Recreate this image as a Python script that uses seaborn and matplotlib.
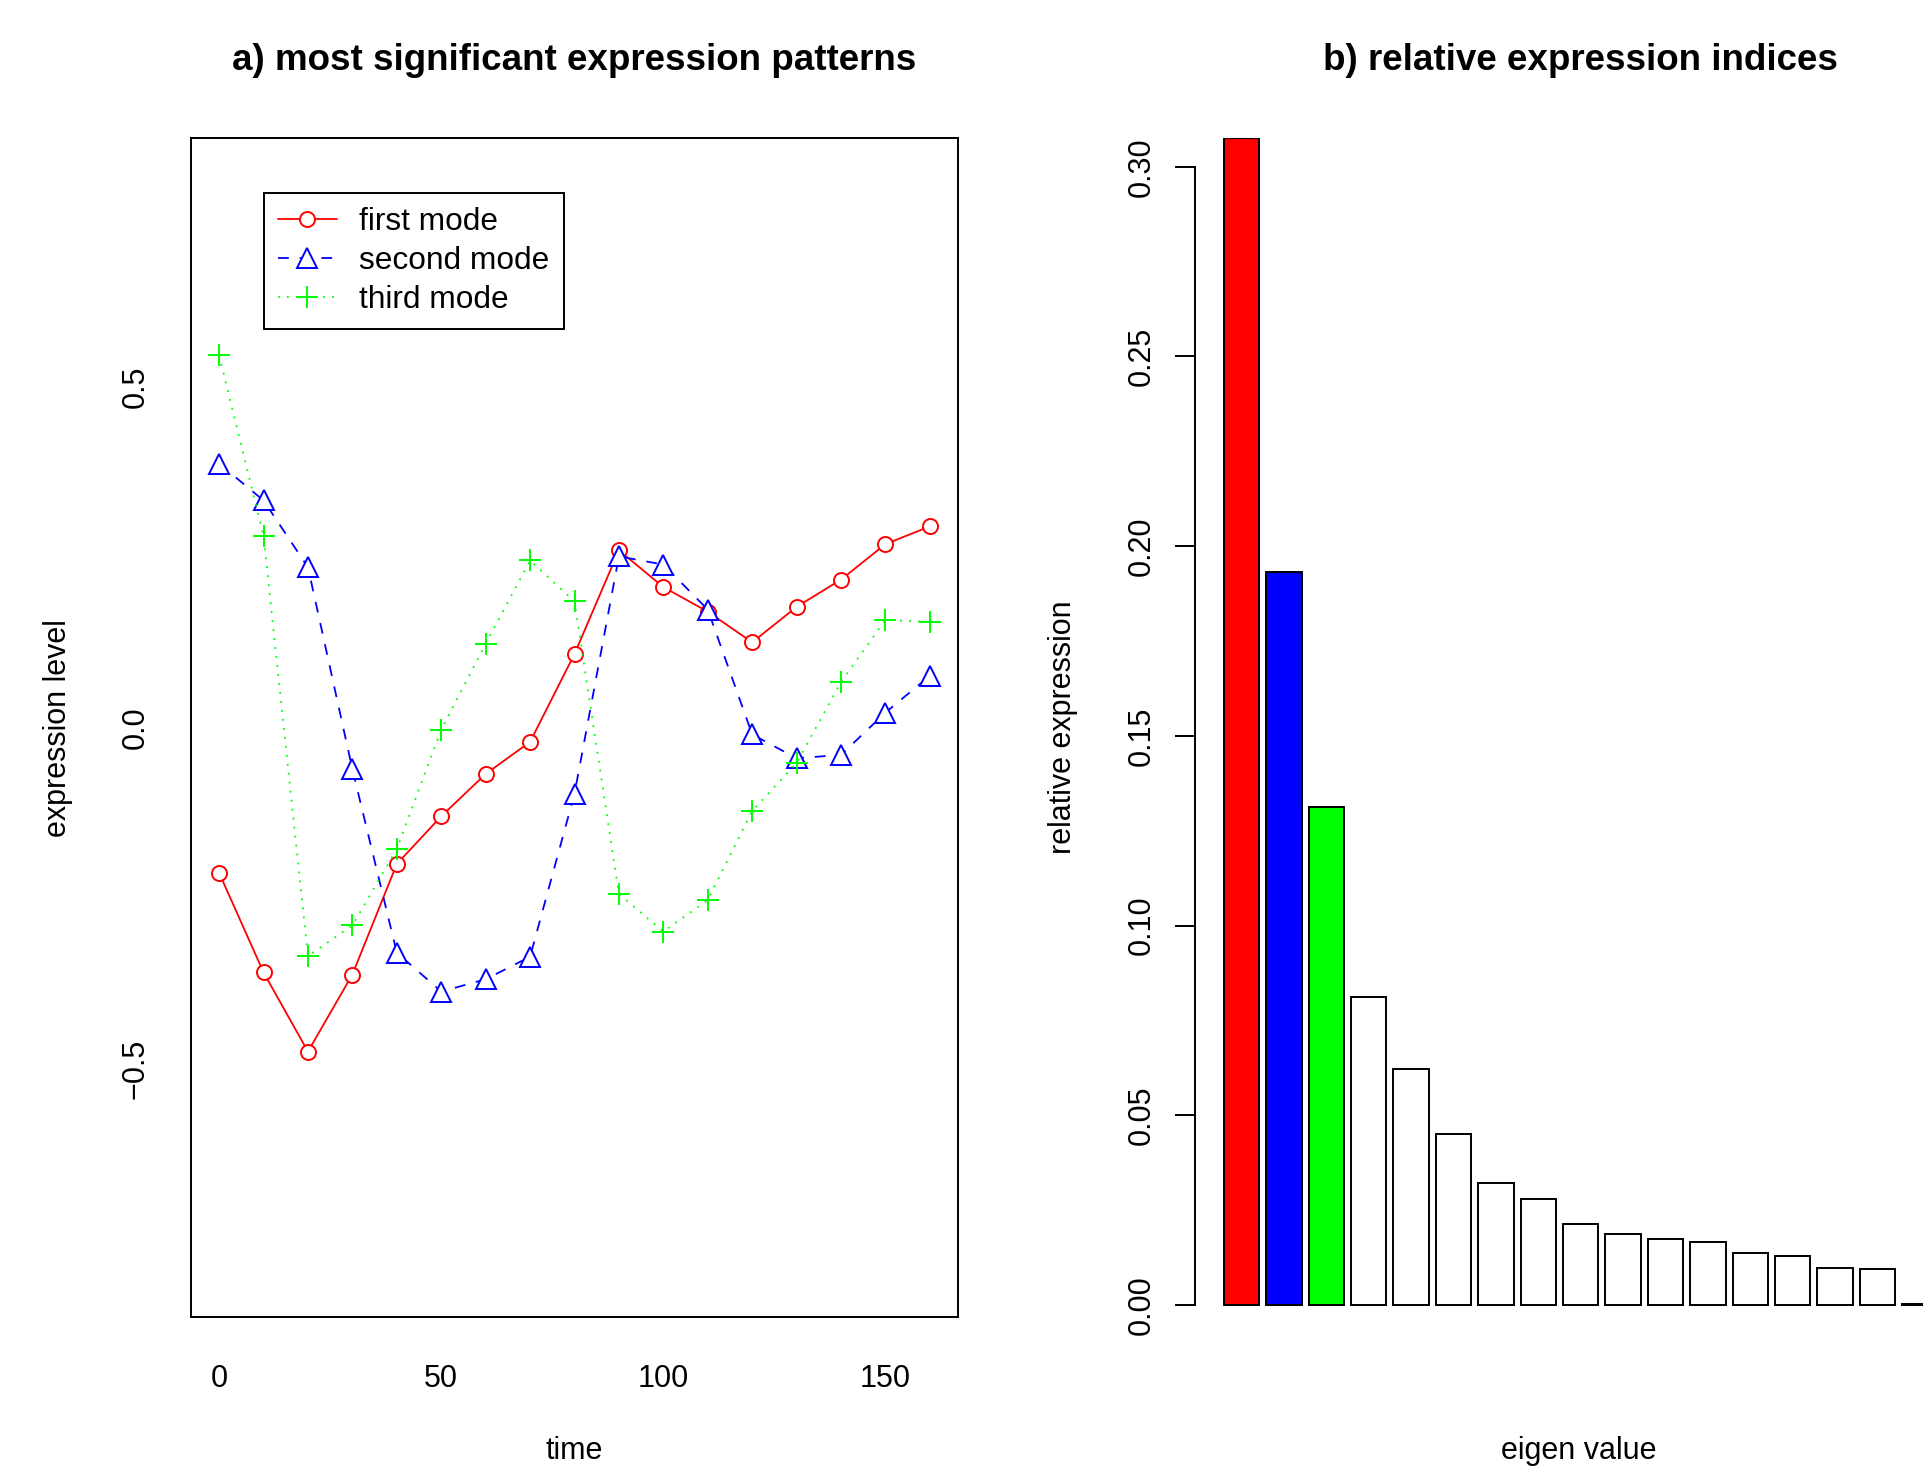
import matplotlib
matplotlib.use("Agg")
import matplotlib.pyplot as plt
import seaborn as sns
import pandas as pd

# ---------------- data ----------------
time = [0, 10, 20, 30, 40, 50, 60, 70, 80, 90, 100, 110, 120, 130, 140, 150, 160]
first_mode = [-0.213, -0.359, -0.475, -0.362, -0.200, -0.130, -0.068, -0.021, 0.108,
              0.260, 0.206, 0.170, 0.125, 0.177, 0.217, 0.269, 0.295]
second_mode = [0.387, 0.333, 0.235, -0.061, -0.330, -0.387, -0.369, -0.336, -0.097,
               0.251, 0.239, 0.173, -0.010, -0.045, -0.040, 0.022, 0.076]
third_mode = [0.546, 0.281, -0.335, -0.290, -0.178, -0.003, 0.123, 0.245, 0.185,
              -0.244, -0.299, -0.253, -0.122, -0.052, 0.067, 0.158, 0.155]
series_names = ["first mode", "second mode", "third mode"]

eigen_rank = [str(i) for i in range(1, 18)]
relative_expression = [0.3075, 0.1933, 0.1313, 0.0811, 0.0622, 0.0450, 0.0321, 0.0279,
                       0.0214, 0.0187, 0.0174, 0.0166, 0.0137, 0.0130, 0.0099, 0.0095,
                       0.0003]
bar_colors = ["#FF0000", "#0000FF", "#00FF00"] + ["#FFFFFF"] * 14

x_ticks = [0, 50, 100, 150]
y_ticks_a = [-0.5, 0.0, 0.5]
y_tick_labels_a = ["\u22120.5", "0.0", "0.5"]
y_ticks_b = [0.00, 0.05, 0.10, 0.15, 0.20, 0.25, 0.30]
y_tick_labels_b = ["0.00", "0.05", "0.10", "0.15", "0.20", "0.25", "0.30"]

# ---------------- style ----------------
sns.set_style("white")
plt.rcParams["font.family"] = ["Liberation Sans", "DejaVu Sans"]
plt.rcParams["axes.unicode_minus"] = True
plt.rcParams["text.color"] = "black"
plt.rcParams["axes.labelcolor"] = "black"
plt.rcParams["xtick.color"] = "black"
plt.rcParams["ytick.color"] = "black"

W, H = 1924, 1469
fig = plt.figure(figsize=(W / 100, H / 100), dpi=100)
ax1 = fig.add_axes([190.7 / W, 1 - 1316.9 / H, 767.6 / W, 1178.6 / H])
ax2 = fig.add_axes([1195.3 / W, 1 - 1316.9 / H, 770.8 / W, 1178.6 / H])

FS = 22
LW = 1.4

# ---------------- panel a ----------------
df = pd.DataFrame({"time": time * 3,
                   "value": first_mode + second_mode + third_mode,
                   "mode": sum([[n] * len(time) for n in series_names], [])})
styles = {
    "first mode": dict(color="#FF0000", marker="o", linestyle="-", markersize=10.8,
                       markerfacecolor="white"),
    "second mode": dict(color="#0000FF", marker="^", linestyle=(0, (6, 6)), markersize=14,
                        markerfacecolor="white"),
    "third mode": dict(color="#00FF00", marker="+", linestyle=(0, (1, 4)), markersize=16),
}
for name in series_names:
    sub = df[df["mode"] == name]
    st = styles[name]
    sns.lineplot(data=sub, x="time", y="value", ax=ax1, label=name,
                 color=st["color"], marker=st["marker"], linestyle=st["linestyle"],
                 markersize=st["markersize"], markeredgewidth=LW, linewidth=1.3,
                 markeredgecolor=st["color"],
                 markerfacecolor=st.get("markerfacecolor", st["color"]),
                 errorbar=None)

ax1.set_xlim(-6.4, 166.4)
ax1.set_ylim(-0.864, 0.864)
ax1.set_xticks(x_ticks, labels=[str(v) for v in x_ticks])
ax1.set_yticks(y_ticks_a, labels=y_tick_labels_a)
for sp in ax1.spines.values():
    sp.set_visible(True)
    sp.set_color("black")
    sp.set_linewidth(LW)
ax1.tick_params(axis="both", direction="out", length=14.2, width=LW, color="black",
                labelsize=FS, labelcolor="black")
ax1.tick_params(axis="x", pad=20)
ax1.tick_params(axis="y", pad=14.5, labelrotation=90)
for lab in ax1.get_yticklabels():
    lab.set_va("center")

ax1.set_xlabel("time", fontsize=FS, va="center", color="black")
ax1.xaxis.set_label_coords(0.5, -0.1142)
ax1.set_ylabel("expression level", fontsize=FS, va="center", color="black")
ax1.yaxis.set_label_coords(-0.1733, 0.5)
ax1.set_title("a) most significant expression patterns", fontsize=26.5,
              fontweight="bold", y=1.0664, va="center", pad=0, color="black")

leg = ax1.legend(loc="upper left", bbox_to_anchor=(0.0952, 0.9537), borderaxespad=0,
                 fontsize=22.8, frameon=True, fancybox=False, framealpha=1,
                 edgecolor="black", handlelength=1.85, handletextpad=0.72,
                 borderpad=0.45, labelspacing=0.28, numpoints=1)
leg.get_frame().set_linewidth(LW)
for t in leg.get_texts():
    t.set_color("black")

# ---------------- panel b ----------------
bdf = pd.DataFrame({"rank": eigen_rank, "rel": relative_expression})
sns.barplot(data=bdf, x="rank", y="rel", hue="rank", order=eigen_rank,
            hue_order=eigen_rank, palette=bar_colors, legend=False, width=0.8333,
            saturation=1, edgecolor="black", linewidth=LW, ax=ax2)
ax2.set_xlim(-1.09, 17.09)
ax2.set_ylim(-0.0031, 0.3075)
ax2.set_xticks([])
ax2.set_yticks(y_ticks_b, labels=y_tick_labels_b)
for k, sp in ax2.spines.items():
    sp.set_visible(k == "left")
ax2.spines["left"].set_color("black")
ax2.spines["left"].set_linewidth(LW)
ax2.spines["left"].set_bounds(0.0, 0.30)
ax2.tick_params(axis="y", direction="out", length=14.4, width=LW, color="black",
                labelsize=FS, labelcolor="black", pad=13.4, labelrotation=90, left=True)
for lab in ax2.get_yticklabels():
    lab.set_va("center")
ax2.set_xlabel("eigen value", fontsize=FS, va="center", color="black")
ax2.xaxis.set_label_coords(0.4978, -0.1142)
ax2.set_ylabel("relative expression", fontsize=FS, va="center", color="black")
ax2.yaxis.set_label_coords(-0.1722, 0.5)
ax2.set_title("b) relative expression indices", fontsize=26.5,
              fontweight="bold", y=1.0664, va="center", pad=0, color="black")
ax2.grid(False)
ax1.grid(False)

fig.savefig("out.png", dpi=100)
